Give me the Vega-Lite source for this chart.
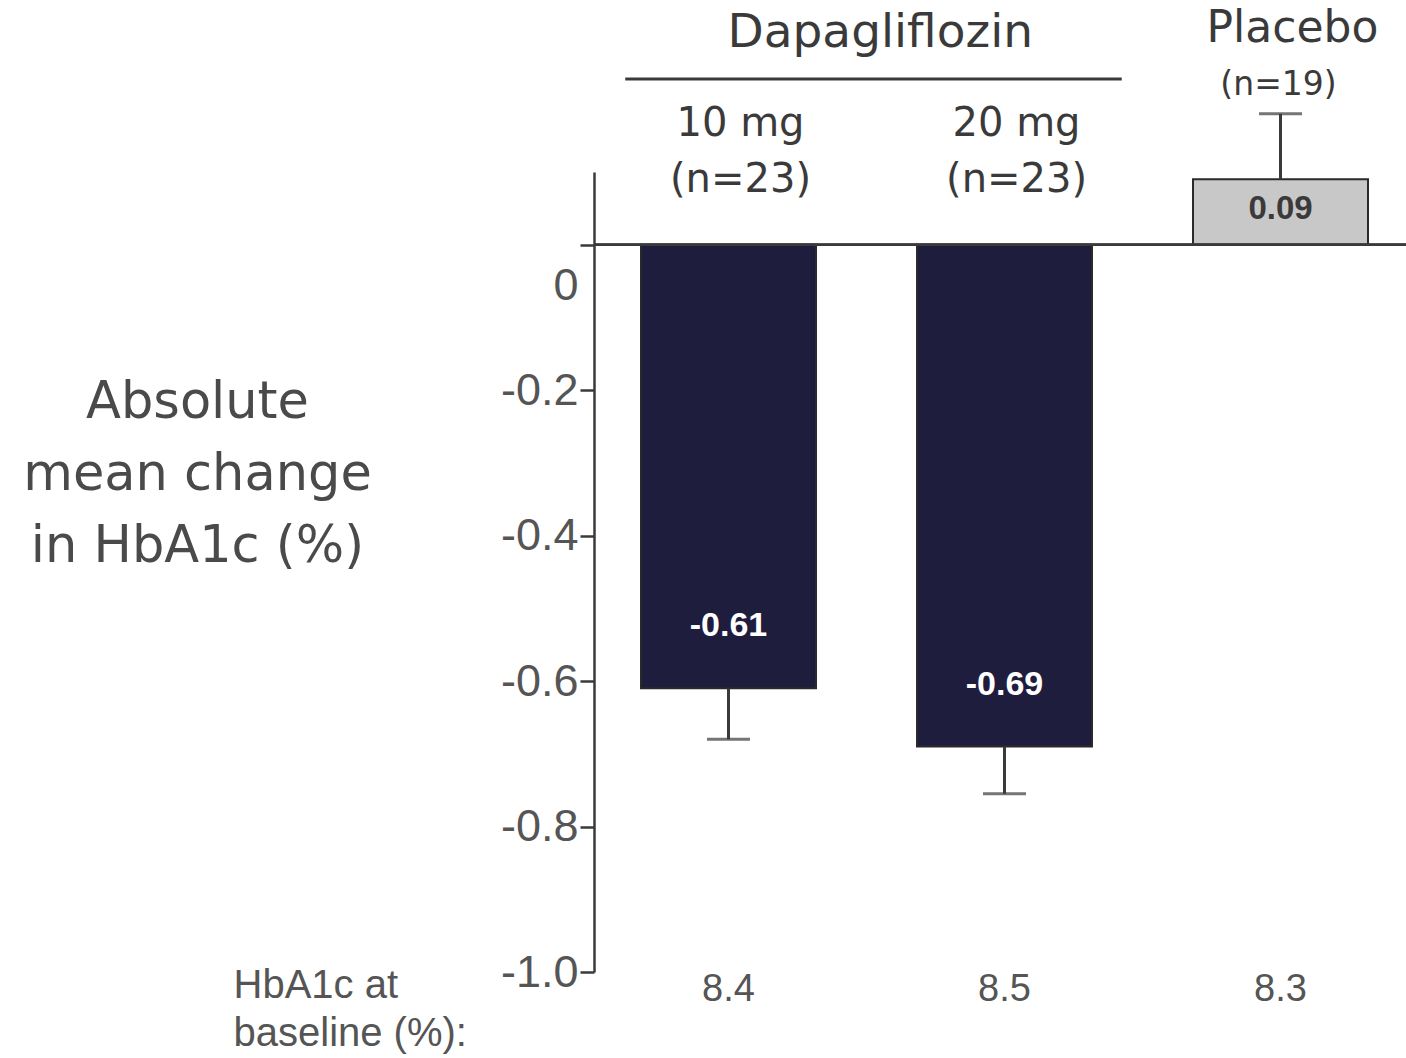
{
  "$schema": "https://vega.github.io/schema/vega-lite/v6.json",
  "width": 812,
  "height": 800,
  "autosize": {"type": "none"},
  "padding": {"left": 594, "top": 172, "right": 0, "bottom": 86},
  "background": "white",
  "config": {
    "view": {"stroke": null},
    "locale": {"number": {"decimal": ".", "thousands": ",", "grouping": [3], "currency": ["$", ""], "minus": "-"}}
  },
  "data": {
    "values": [
      {"group": "10 mg", "value": -0.61, "err": -0.68, "n": "(n=23)", "baseline": 8.4},
      {"group": "20 mg", "value": -0.69, "err": -0.755, "n": "(n=23)", "baseline": 8.5},
      {"group": "Placebo", "value": 0.09, "err": 0.18, "n": "(n=19)", "baseline": 8.3}
    ]
  },
  "layer": [
    {
      "mark": {"type": "bar", "stroke": "#2a2a2a", "strokeWidth": 2},
      "encoding": {
        "x": {
          "field": "group", "type": "nominal",
          "scale": {"domain": ["10 mg", "20 mg", "Placebo"], "paddingInner": 0.366, "paddingOuter": 0.154, "align": 0.553},
          "axis": {
            "orient": "bottom", "title": ["HbA1c at", "baseline (%):"], "titleAngle": 0, "titleAlign": "left", "titleBaseline": "top",
            "titleX": -361, "titleY": -7, "titleFont": "Liberation Sans", "titleFontSize": 40, "titleFontWeight": "normal",
            "titleColor": "#555555", "titleLineHeight": 48, "labels": false, "ticks": false, "domain": false
          }
        },
        "y": {
          "field": "value", "type": "quantitative",
          "scale": {"domain": [-1, 0.1], "nice": false, "zero": false},
          "axis": {
            "title": ["Absolute", "mean change", "in HbA1c (%)"], "titleAngle": 0, "titleAlign": "center", "titleBaseline": "middle",
            "titleX": -397, "titleY": 230, "titleFont": "DejaVu Sans", "titleFontSize": 51, "titleFontWeight": "normal",
            "titleColor": "#4a4a4a", "titleLineHeight": 72,
            "values": [-1, -0.8, -0.6, -0.4, -0.2, 0],
            "labelExpr": "datum.value === 0 ? '0' : format(datum.value, '.1f')",
            "labelFont": "Liberation Sans", "labelFontSize": 45, "labelColor": "#555555", "labelPadding": 2,
            "labelOffset": {"condition": {"test": "datum.value === 0", "value": 41}, "value": 0},
            "domainColor": "#3a3a3a", "domainWidth": 2.5, "tickColor": "#3a3a3a", "tickWidth": 2.5, "tickSize": 14, "grid": false
          }
        },
        "y2": {"datum": 0},
        "color": {
          "field": "group", "type": "nominal",
          "scale": {"domain": ["10 mg", "20 mg", "Placebo"], "range": ["#1f1d3d", "#1f1d3d", "#c8c8c8"]},
          "legend": null
        }
      }
    },
    {
      "mark": {"type": "rule", "color": "#3a3a3a", "strokeWidth": 3},
      "encoding": {
        "x": {"field": "group", "type": "nominal"},
        "y": {"field": "value", "type": "quantitative"},
        "y2": {"field": "err"}
      }
    },
    {
      "mark": {"type": "tick", "color": "#3a3a3a", "thickness": 3, "size": 43, "orient": "horizontal"},
      "encoding": {
        "x": {"field": "group", "type": "nominal"},
        "y": {"field": "err", "type": "quantitative"}
      }
    },
    {
      "mark": {"type": "rule", "color": "#3a3a3a", "strokeWidth": 2.5},
      "encoding": {"y": {"datum": 0}}
    },
    {
      "transform": [{"filter": "datum.value < 0"}],
      "mark": {"type": "text", "font": "Liberation Sans", "fontWeight": "bold", "fontSize": 34, "color": "white", "dy": -62, "baseline": "middle"},
      "encoding": {
        "x": {"field": "group", "type": "nominal"},
        "y": {"field": "value", "type": "quantitative"},
        "text": {"field": "value", "type": "quantitative", "format": ".2f"}
      }
    },
    {
      "transform": [{"filter": "datum.value > 0"}],
      "mark": {"type": "text", "font": "Liberation Sans", "fontWeight": "bold", "fontSize": 33, "color": "#3a3a3a", "dy": 30, "baseline": "middle"},
      "encoding": {
        "x": {"field": "group", "type": "nominal"},
        "y": {"field": "value", "type": "quantitative"},
        "text": {"field": "value", "type": "quantitative", "format": ".2f"}
      }
    },
    {
      "mark": {"type": "text", "font": "Liberation Sans", "fontSize": 38, "color": "#555555", "dy": 18, "baseline": "middle"},
      "encoding": {
        "x": {"field": "group", "type": "nominal"},
        "y": {"datum": -1},
        "text": {"field": "baseline", "type": "quantitative", "format": ".1f"}
      }
    },
    {
      "transform": [{"filter": "datum.group !== 'Placebo'"}],
      "mark": {"type": "text", "font": "DejaVu Sans", "fontSize": 40, "color": "#3a3a3a", "dx": 12, "baseline": "middle"},
      "encoding": {
        "x": {"field": "group", "type": "nominal"},
        "y": {"datum": 0.166},
        "text": {"field": "group", "type": "nominal"}
      }
    },
    {
      "transform": [{"filter": "datum.group !== 'Placebo'"}],
      "mark": {"type": "text", "font": "DejaVu Sans", "fontSize": 40, "color": "#3a3a3a", "dx": 12, "baseline": "middle"},
      "encoding": {
        "x": {"field": "group", "type": "nominal"},
        "y": {"datum": 0.089},
        "text": {"field": "n", "type": "nominal"}
      }
    },
    {
      "transform": [{"filter": "datum.group === 'Placebo'"}],
      "mark": {"type": "text", "font": "DejaVu Sans", "fontSize": 44, "color": "#3a3a3a", "dx": 12, "baseline": "middle"},
      "encoding": {
        "x": {"field": "group", "type": "nominal"},
        "y": {"datum": 0.297},
        "text": {"field": "group", "type": "nominal"}
      }
    },
    {
      "transform": [{"filter": "datum.group === 'Placebo'"}],
      "mark": {"type": "text", "font": "DejaVu Sans", "fontSize": 33, "color": "#3a3a3a", "dx": -2, "baseline": "middle"},
      "encoding": {
        "x": {"field": "group", "type": "nominal"},
        "y": {"datum": 0.22},
        "text": {"field": "n", "type": "nominal"}
      }
    },
    {
      "data": {"values": [{"label": "Dapagliflozin"}]},
      "mark": {"type": "text", "font": "DejaVu Sans", "fontSize": 47, "color": "#3a3a3a", "baseline": "middle"},
      "encoding": {
        "x": {"datum": "20 mg", "bandPosition": -0.21},
        "y": {"datum": 0.291},
        "text": {"field": "label", "type": "nominal"}
      }
    },
    {
      "data": {"values": [{"label": "Dapagliflozin"}]},
      "mark": {"type": "rule", "color": "#3a3a3a", "strokeWidth": 3},
      "encoding": {
        "x": {"datum": "10 mg", "bandPosition": -0.09},
        "x2": {"datum": "20 mg", "bandPosition": 1.17},
        "y": {"datum": 0.228}
      }
    }
  ]
}
